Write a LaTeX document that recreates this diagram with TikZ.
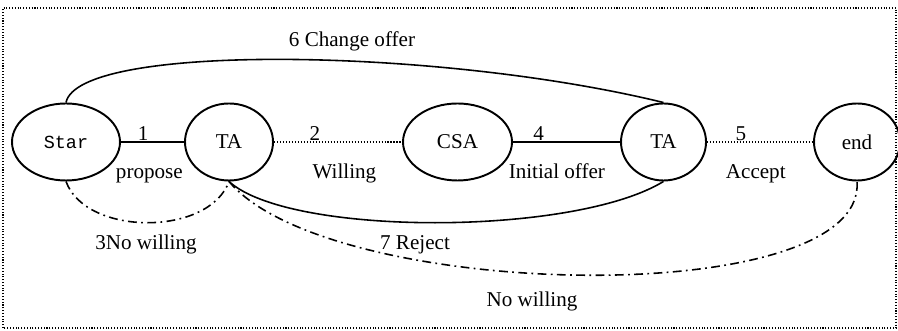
\documentclass[tikz,border=0pt]{standalone}
\usepackage{fontspec}
\setmainfont{Liberation Serif}
\newfontfamily\monofont{Liberation Mono}
\usetikzlibrary{shapes.geometric}

\begin{document}
\begin{tikzpicture}[
    state/.style={ellipse, draw, line width=1.1pt, minimum height=1.54cm, inner sep=0pt, font=\fontsize{12}{14}\selectfont},
    lbl/.style={font=\fontsize{12}{14}\selectfont, inner sep=1pt, text height=1.6ex, text depth=0.5ex},
    num/.style={lbl, above, yshift=-3pt},
    solidline/.style={line width=0.8pt},
    thickline/.style={line width=1.5pt},
    dotline/.style={line width=0.7pt, densely dotted},
    dashdot/.style={line width=0.9pt, dash pattern=on 5pt off 2.5pt on 1pt off 2.5pt}
]
\useasboundingbox (0,0) rectangle (17.96,6.62);
\draw[line width=0.6pt, densely dotted] (0.06,0.06) rectangle (17.92,6.46);

\node[state, minimum width=2.16cm, font=\monofont\fontsize{10.5}{12}\selectfont] (star) at (1.32,3.78) {Star};
\node[state, minimum width=1.76cm] (ta1) at (4.58,3.78) {TA};
\node[state, minimum width=2.18cm] (csa) at (9.15,3.78) {CSA};
\node[state, minimum width=1.70cm] (ta2) at (13.27,3.78) {TA};
\node[state, minimum width=1.72cm] (end) at (17.14,3.78) {end};

% straight links
\draw[solidline] (star) -- (ta1)
    node[num, pos=0.35] {1}
    node[lbl, pos=0.45, below=0.42cm] {propose};
\draw[dotline] (ta1) -- (csa)
    node[num, pos=0.32] {2}
    node[lbl, pos=0.55, below=0.42cm] {Willing};
\draw[thickline] (csa) -- (ta2)
    node[num, pos=0.24] {4}
    node[lbl, pos=0.41, below=0.42cm] {Initial offer};
\draw[dotline] (ta2) -- (end)
    node[num, pos=0.32] {5}
    node[lbl, pos=0.46, below=0.42cm] {Accept};

% curved links
\draw[line width=0.9pt] (star.north) .. controls +(0.25,1.2) and +(-4.5,1.1) .. (ta2.north);
\draw[line width=0.9pt] (ta1.south) .. controls +(1.2,-1.1) and +(-1.8,-1.1) .. (ta2.south);
\draw[dashdot] (star.south) .. controls +(0.4,-1.1) and +(-0.4,-1.1) .. (ta1.south);
\draw[dashdot] (ta1.south) .. controls +(2.0,-2.4) and +(0.2,-2.6) .. (end.south);

\node[lbl] (change) at (7.04,5.78) {6 Change offer};
\node[lbl] (nowill) at (2.92,1.72) {3No willing};
\node[lbl] (reject) at (8.30,1.72) {7 Reject};
\node[lbl] (nowill2) at (10.64,0.58) {No willing};
\end{tikzpicture}
\end{document}
